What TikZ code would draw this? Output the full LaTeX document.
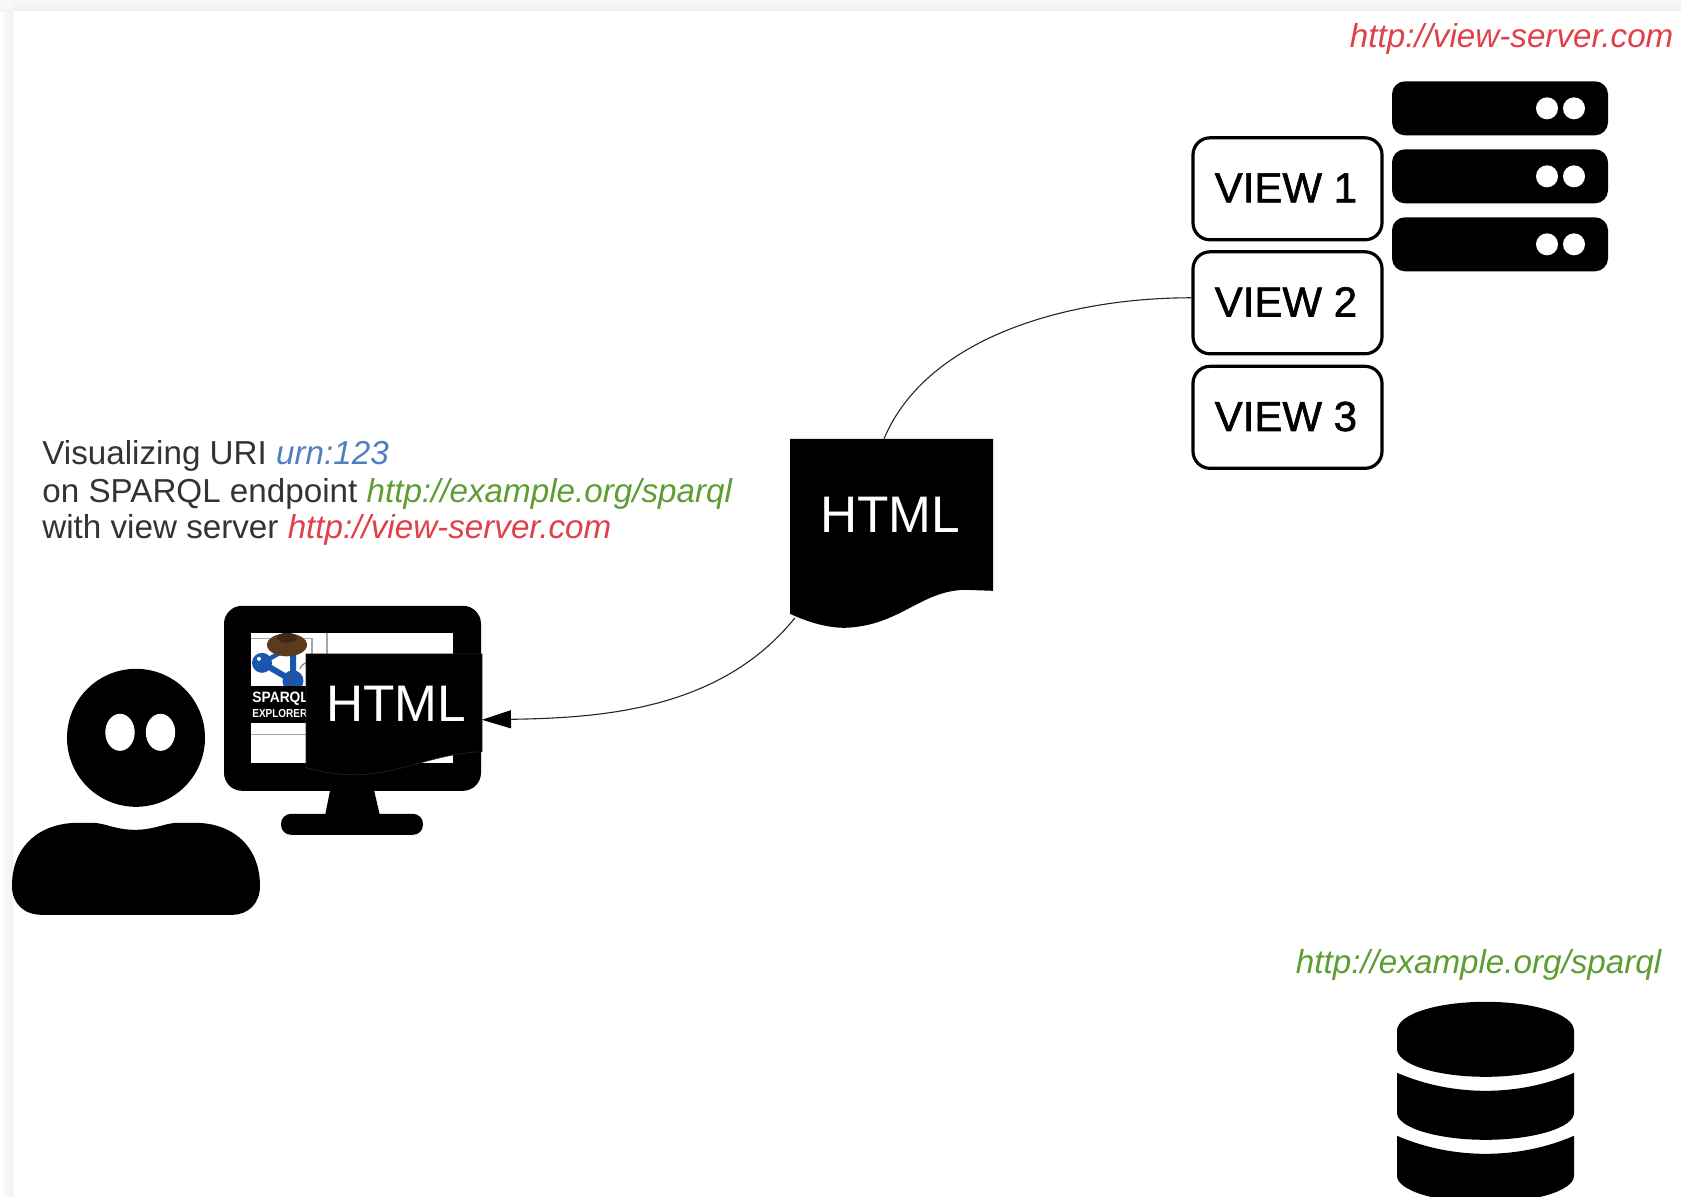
\documentclass[tikz,border=0pt]{standalone}
\usepackage{fontspec}
\setmainfont{Liberation Sans}
\newfontfamily\viewfont[FakeBold=1.4]{Liberation Sans}
\usetikzlibrary{arrows.meta}
\definecolor{urlred}{HTML}{E0404A}
\definecolor{urlgreen}{HTML}{5C9E31}
\definecolor{urlblue}{HTML}{4F7FBF}
\definecolor{bodytext}{HTML}{333333}
\definecolor{edgegrey}{HTML}{F0F0F0}
\definecolor{logoblue}{HTML}{1A56B0}
\definecolor{hatbrown}{HTML}{5B3A1E}
\tikzset{
  ink/.style={fill=black,draw=none},
  viewbox/.style={draw=black,line width=1.6pt,fill=white,rounded corners=8.5pt,minimum width=94.5pt,minimum height=51pt,inner sep=0pt,font=\viewfont\fontsize{21}{24}\selectfont},
  serverbar/.style={fill=black,rounded corners=6.5pt},
  serverdot/.style={fill=white,draw=none},
  urltext/.style={anchor=base west,inner sep=0pt,font=\fontsize{16.6}{18.75}\selectfont\itshape},
  linetext/.style={anchor=base west,inner sep=0pt,text=bodytext,font=\fontsize{16.6}{18.75}\selectfont},
  docword/.style={anchor=base west,inner sep=0pt,text=white,font=\fontsize{25.7}{30}\selectfont},
  docshape/.style={fill=black,draw=black!85!white,line width=0.3pt},
  link/.style={draw=black!85!white,line width=0.55pt},
  logoline/.style={draw=black!35!white,line width=0.6pt},
  logotext/.style={anchor=west,inner sep=0pt,text=white,font=\bfseries},
}
\begin{document}
\begin{tikzpicture}[x=0.5pt,y=-0.5pt]
\useasboundingbox (0,0) rectangle (1681,1196);
% page edge
\shade[left color=white,right color=edgegrey] (0,0) rectangle (13,1196);
\shade[top color=white!60!edgegrey,bottom color=edgegrey] (0,0) rectangle (1681,10);
\fill[edgegrey!50!white] (0,0) rectangle (13,10);

\begin{scope}[yshift=-0.4pt]
% user
\fill[ink] (136,737) circle[radius=69];
\fill[white] (120,731.5) ellipse[x radius=14.7,y radius=18.5];
\fill[white] (160.5,731.5) ellipse[x radius=14.7,y radius=18.5];
\fill[ink] (12,885) .. controls (12,845) and (40,822) .. (78,822) -- (92,822)
  .. controls (105,822) and (115,829) .. (135,829)
  .. controls (155,829) and (165,822) .. (178,822) -- (195,822)
  .. controls (232,822) and (260,845) .. (260,885)
  .. controls (260,903) and (248,914) .. (232,914) -- (42,914)
  .. controls (24,914) and (12,903) .. (12,885) -- cycle;

% monitor
\fill[ink,rounded corners=9pt] (224,605) rectangle (481,790);
\fill[ink] (331,785) -- (373,785) -- (380,815) -- (325,815) -- cycle;
\fill[ink,rounded corners=5pt] (281,813) rectangle (423,834);
\fill[white] (251,632) rectangle (453,762);
% screen contents
\begin{scope}
\clip (251,632) rectangle (453,762);
\draw[logoline] (251,638) -- (312,638) -- (312,655);
\draw[logoline] (327,632) -- (327,655);
\draw[logoline] (251,734) -- (306,734);
\draw[logoblue,line width=3pt] (262,662) -- (279,672) -- (293,680) -- (293,652);
\draw[logoblue,line width=2.2pt] (262,662) -- (280,652);
\fill[logoblue] (262,662) circle[radius=10];
\fill[logoblue] (293,680) circle[radius=10.5];
\fill[white] (259,658) circle[radius=2];
\draw[black!70!white,line width=0.5pt] (291,672) -- (288,688);
\draw[black!50!white,line width=0.6pt] (300,668) arc[start angle=200,end angle=300,radius=10];
\fill[hatbrown] (287,644) ellipse[x radius=20,y radius=11.5];
\fill[hatbrown!70!black] (287,637) ellipse[x radius=10,y radius=5];
\fill[ink] (251,685) rectangle (306,722);
\node[logotext] (logoa) at (252,698) {\fontsize{7.5}{9}\selectfont\scalebox{.92}[1]{SPARQL}};
\node[logotext] (logob) at (252,713) {\fontsize{5.8}{7}\selectfont\scalebox{.86}[1]{EXPLORER}};
\end{scope}

% HTML on the screen
\draw[docshape] (306,653) -- (482,653) -- (482,751)
  .. controls (435,752) and (400,774) .. (353,774)
  .. controls (340,774) and (325,772) .. (306,767) -- cycle;
\node[docword] (screenword) at (326,721) {HTML};
\coordinate (screenport) at (482,719);

% HTML in transit
\fill[ink] (790,438) -- (993,438) -- (993,590) -- (965,589)
  .. controls (920,590) and (900,625) .. (845,627)
  .. controls (825,627) and (805,620) .. (790,613) -- cycle;
\node[docword] (transitword) at (820,532) {HTML};
\coordinate (transittop) at (884,438);
\coordinate (transitfoot) at (795,617);

% servers
\foreach \t in {80.5,148.5,216.5}{
  \fill[serverbar] (1392,\t) rectangle ++(216,54);
  \fill[serverdot] (1547,\t+27) circle[radius=11];
  \fill[serverdot] (1574,\t+27) circle[radius=11];
}

% views
\node[viewbox] (view1) at (1287.5,188) {\hspace{-1.6pt}\raisebox{1pt}{VIEW 1}};
\node[viewbox] (view2) at (1287.5,302) {\hspace{-1.6pt}\raisebox{1pt}{VIEW 2}};
\node[viewbox] (view3) at (1287.5,416.5) {\hspace{-1.6pt}\raisebox{1pt}{VIEW 3}};

% database
\fill[ink] (1397,1030) .. controls (1397,1013) and (1438,1001) .. (1485.5,1001)
  .. controls (1533,1001) and (1574,1013) .. (1574,1030) -- (1574,1048)
  .. controls (1574,1064) and (1533,1076) .. (1485.5,1076)
  .. controls (1438,1076) and (1397,1064) .. (1397,1048) -- cycle;
\fill[ink] (1397,1072) .. controls (1425,1084) and (1455,1090) .. (1485.5,1090)
  .. controls (1516,1090) and (1546,1084) .. (1574,1072) -- (1574,1112)
  .. controls (1574,1127) and (1533,1139) .. (1485.5,1139)
  .. controls (1438,1139) and (1397,1127) .. (1397,1112) -- cycle;
\fill[ink] (1397,1135) .. controls (1425,1147) and (1455,1153) .. (1485.5,1153)
  .. controls (1516,1153) and (1546,1147) .. (1574,1135) -- (1574,1175)
  .. controls (1574,1190) and (1533,1202) .. (1485.5,1202)
  .. controls (1438,1202) and (1397,1190) .. (1397,1175) -- cycle;

% connectors
\draw[link] (view2.177) .. controls (1060,297) and (925,340) .. (transittop);
\draw[link,-{Triangle[length=14.5pt,width=9pt,color=black,fill=black]}] (transitfoot) .. controls (720,710) and (600,717) .. (screenport);
\end{scope}

% urls
\node[urltext,text=urlred] (serverurl) at (1349.5,47) {http://view-server.com};
\node[urltext,text=urlgreen] (sparqlurl) at (1295.5,973) {http://example.org/sparql};

% caption
\node[linetext] (line1) at (42,464) {Visualizing URI \textcolor{urlblue}{\itshape urn:123}};
\node[linetext] (line2) at (42,502) {on SPARQL endpoint \textcolor{urlgreen}{\itshape http://example.org/sparql}};
\node[linetext] (line3) at (42,538) {with view server \textcolor{urlred}{\itshape http://view-server.com}};
\end{tikzpicture}
\end{document}
